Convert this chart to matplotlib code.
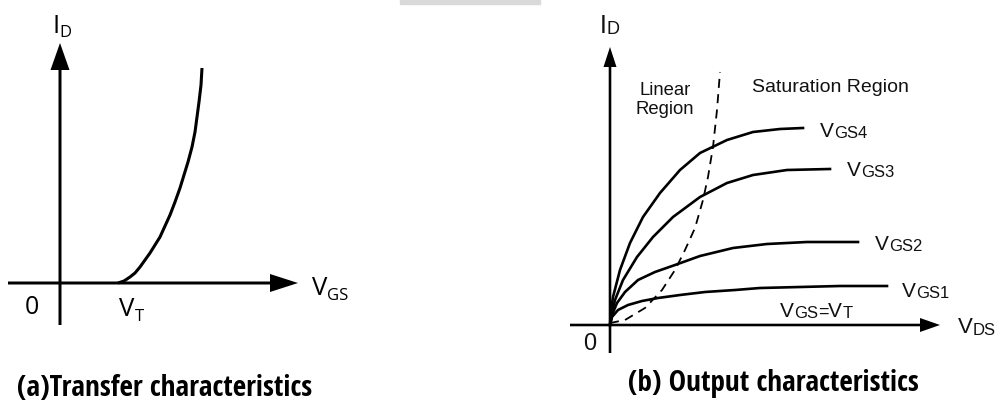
import numpy as np
from matplotlib import pyplot as plt
from matplotlib import font_manager
from matplotlib.patches import Rectangle

# transfer characteristic, units relative to the origin of panel (a)
vgs = [58, 64, 70, 75, 80, 85, 90, 95, 100, 105, 110, 115, 120, 124, 128,
       132, 135, 137, 139, 141, 142]
id_transfer = [0, 2, 6, 10, 16, 23, 30, 38, 46, 57, 68, 81, 95, 108, 121,
               136, 151, 166, 181, 198, 215]

# output characteristics, units relative to the origin of panel (b)
vds_4 = [0, 1, 3, 10, 20, 33, 50, 70, 90, 117, 143, 170, 193]
id_4 = [0, 14, 28, 55, 82, 108, 132, 155, 172, 185, 193, 196, 197]
vds_3 = [0, 2, 5, 13, 27, 43, 63, 90, 117, 143, 177, 220]
id_3 = [0, 12, 25, 45, 68, 88, 108, 128, 142, 150, 155, 156]
vds_2 = [0, 2, 7, 15, 28, 45, 65, 90, 123, 157, 197, 248]
id_2 = [0, 10, 22, 33, 45, 53, 60, 69, 77, 81, 83, 83]
vds_1 = [0, 2, 8, 18, 32, 48, 70, 95, 125, 150, 190, 230, 277]
id_1 = [0, 8, 15, 20, 24, 27, 30, 33, 35, 37, 38, 39, 39]
vds_sat = [0, 15, 35, 52, 65, 75, 85, 93, 98, 103, 107, 110]
id_sat = [2, 5, 17, 35, 55, 75, 97, 125, 148, 178, 215, 253]

curve_labels = ['GS4', 'GS3', 'GS2', 'GS1']
label_pos = [(210, 188), (237, 149), (265, 75), (292, 28)]

W, H = 1005, 405
fig = plt.figure(figsize=(W / 100, H / 100), dpi=100)
fig.patches.append(Rectangle((400 / W, 1 - 4 / H), 140 / W, 4 / H,
                             transform=fig.transFigure, color='#d9d9d9'))

installed = {f.name for f in font_manager.fontManager.ttflist}
narrow = next((f for f in ['Liberation Sans Narrow', 'Open Sans Condensed']
               if f in installed), None)


def make_axes(px0, py0, px1, py1, ox, oy):
    ax = fig.add_axes([px0 / W, 1 - py1 / H, (px1 - px0) / W, (py1 - py0) / H])
    ax.set_xlim(px0 - ox, px1 - ox)
    ax.set_ylim(oy - py1, oy - py0)
    ax.axis('off')
    return ax


def arrow(ax, x0, y0, x1, y1, lw, hw, hl):
    ax.arrow(x0, y0, x1 - x0, y1 - y0, width=lw, head_width=hw, head_length=hl,
             length_includes_head=True, fc='k', ec='k', lw=0)


def label(ax, x, y, parts, family, color='k'):
    # parts: list of (text, size, dy in points)
    t = ax.text(x, y, parts[0][0], fontsize=parts[0][1], family=family,
                color=color, va='baseline', ha='left')
    for txt, size, dy in parts[1:]:
        t = ax.annotate(txt, xy=(1, 0), xycoords=t, xytext=(0, dy),
                        textcoords='offset points', fontsize=size,
                        family=family, color=color, va='bottom', ha='left')
    return t


# ---- (a) transfer characteristics ----
left = 'Open Sans'
axa = make_axes(0, 0, 340, 330, 60, 283)
arrow(axa, 0, -42, 0, 240, 3, 19, 27)
arrow(axa, -52, 0, 238, 0, 3, 18, 28)
axa.plot(vgs, id_transfer, color='k', lw=2.2, solid_capstyle='butt')
label(axa, -8, 250, [('I', 18.5, 0), ('D', 12, -1.5)], left)
label(axa, 252, -12, [('V', 18.5, 0), ('GS', 12, -2)], left)
axa.text(-28, -24, '0', fontsize=18, family=left, ha='center', va='center')
label(axa, 59, -33, [('V', 18.5, 0), ('T', 12, -2)], left)

# ---- (b) output characteristics ----
right = 'Liberation Sans'
ink = '#111111'
axb = make_axes(560, 0, 1005, 362, 610, 325)
arrow(axb, 0, -28, 0, 278, 2.6, 13, 20)
arrow(axb, -40, 0, 330, 0, 2.6, 14, 20)
for xs, ys in [(vds_4, id_4), (vds_3, id_3), (vds_2, id_2), (vds_1, id_1)]:
    axb.plot(xs, ys, color='k', lw=1.9)
axb.plot(vds_sat, id_sat, color='k', lw=1.3, dashes=(5, 3.5))
for name, (x, y) in zip(curve_labels, label_pos):
    label(axb, x, y, [('V', 15, 0), (name, 12, 0)], right, ink)
label(axb, 170, 8, [('V', 15, 0), ('GS', 12, 0), ('=', 13, 0), ('V', 15, 0),
                    ('T', 12, 0)], right, ink)
label(axb, -10, 292, [('I', 18, 0), ('D', 13, 0)], right, ink)
label(axb, 348, -8, [('V', 16, 0), ('DS', 12, 0)], right, ink)
axb.text(-20, -19, '0', fontsize=17, family=right, color=ink,
         ha='center', va='center')
axb.text(55, 225, 'Linear\nRegion', fontsize=13.3, family=right, color=ink,
         ha='center', va='center', linespacing=1.2)
axb.text(142, 238, 'Saturation Region', fontsize=14, family=right, color=ink,
         ha='left', va='center')

if narrow:
    cap_font, cap_size = narrow, 21
else:
    cap_font, cap_size = left, 17
fig.text(17 / W, 1 - 396 / H, '(a)Transfer characteristics', fontsize=cap_size,
         family=cap_font, weight='bold', va='baseline', ha='left')
fig.text(628 / W, 1 - 391 / H, '(b) Output characteristics', fontsize=cap_size,
         family=cap_font, weight='bold', va='baseline', ha='left')

fig.savefig('out.png', dpi=100, facecolor='white')
